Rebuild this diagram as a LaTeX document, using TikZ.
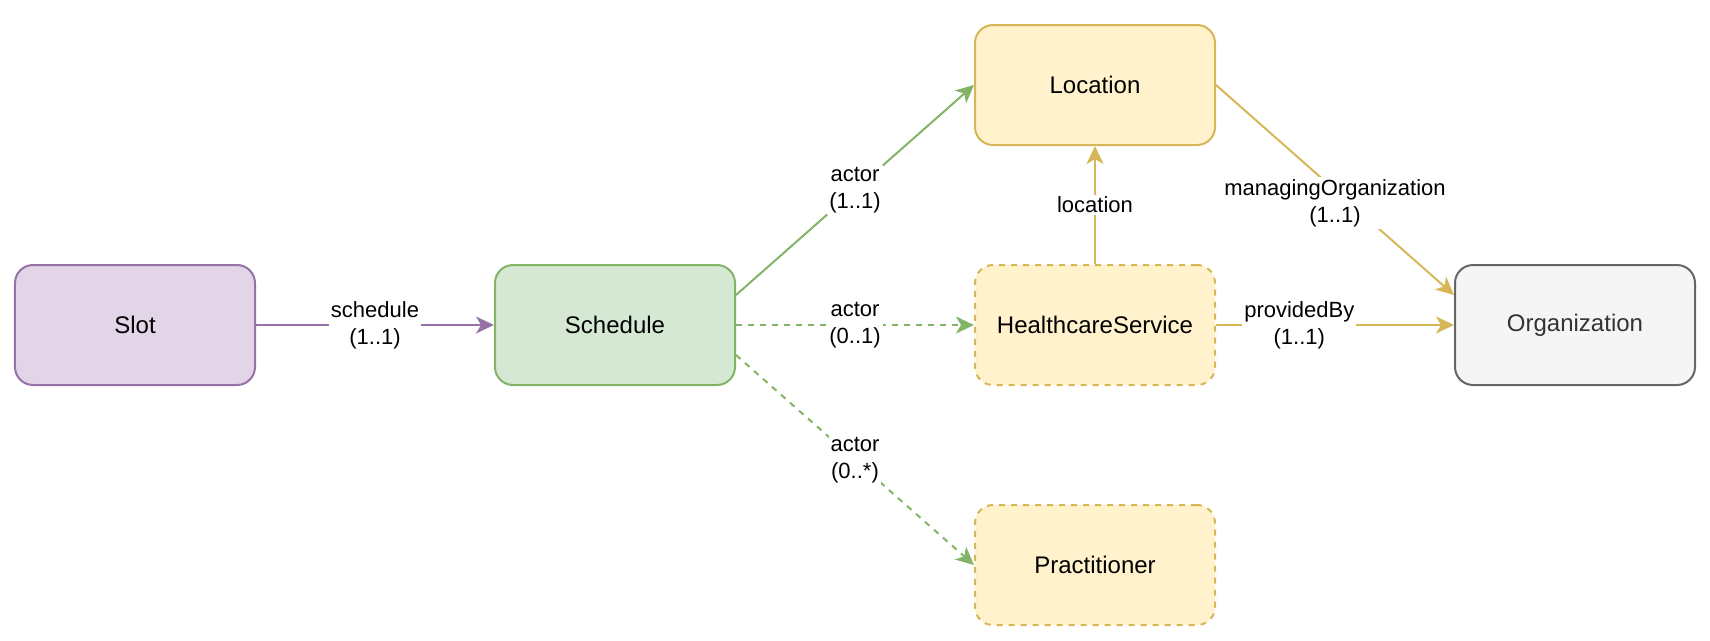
\documentclass[tikz,border=0pt]{standalone}
\usepackage{fontspec}
\setmainfont{Liberation Sans}
\usetikzlibrary{arrows.meta}
\definecolor{slotfill}{RGB}{225,213,231}
\definecolor{slotline}{RGB}{150,115,166}
\definecolor{schedfill}{RGB}{213,232,212}
\definecolor{schedline}{RGB}{130,179,102}
\definecolor{resfill}{RGB}{255,242,204}
\definecolor{resline}{RGB}{214,182,86}
\definecolor{orgfill}{RGB}{245,245,245}
\definecolor{orgline}{RGB}{102,102,102}
\definecolor{orgtext}{RGB}{51,51,51}

\begin{document}
\begin{tikzpicture}[x=120pt,y=120pt,
		box/.style={draw,rounded corners=9pt,line width=1pt,minimum width=120pt,minimum height=60pt,inner sep=0pt,font=\fontsize{12}{14}\selectfont},
		optbox/.style={box,dash pattern=on 3pt off 3pt},
		link/.style={line width=1pt,-{Stealth[length=9pt,width=8.5pt,inset=2.5pt]}},
		optlink/.style={link,dash pattern=on 3pt off 3pt},
		lbl/.style={fill=white,text=black,align=center,inner sep=1pt,font=\fontsize{11}{13.5}\selectfont}]
			\useasboundingbox (-0.5625,-1.3125) rectangle (6.5625,1.3541667);
			
			\coordinate (slot) at (0,0);
			\coordinate (sched) at (2,0);
			\coordinate (loc) at (4,1);
			\coordinate (hcs) at (4,0);
			\coordinate (pract) at (4,-1);
			\coordinate (org) at (6,0);
			
			\node[box,fill=slotfill,draw=slotline] (Slot) at (slot) {Slot};
			\node[box,fill=schedfill,draw=schedline] (Schedule) at (sched) {Schedule};
			\node[box,fill=resfill,draw=resline] (Location) at (loc) {Location};
			\node[optbox,fill=resfill,draw=resline] (HealthcareService) at (hcs) {HealthcareService};
			\node[optbox,fill=resfill,draw=resline] (Practitioner) at (pract) {Practitioner};
			\node[box,fill=orgfill,draw=orgline,text=orgtext] (Organization) at (org) {Organization};
			
			\draw[link,color=slotline] (Slot) -- node[lbl] {schedule\\(1..1)} (Schedule);
			\draw[link,color=schedline] ([yshift=15pt]Schedule.east) -- node[lbl] {actor\\(1..1)} (Location.west);
			\draw[optlink,color=schedline] (Schedule) -- node[lbl] {actor\\(0..1)} (HealthcareService);
			\draw[optlink,color=schedline] ([yshift=-15pt]Schedule.east) -- node[lbl] {actor\\(0..*)} (Practitioner.west);
			\draw[link,color=resline] (HealthcareService) -- node[lbl] {location} (Location);
			\draw[link,color=resline] (Location.east) -- node[lbl,yshift=-6.5pt] {managingOrganization\\(1..1)} ([yshift=15pt]Organization.west);
			\draw[link,color=resline] (HealthcareService) -- node[lbl,pos=0.35] {providedBy\\(1..1)} (Organization);
		\end{tikzpicture}
\end{document}
